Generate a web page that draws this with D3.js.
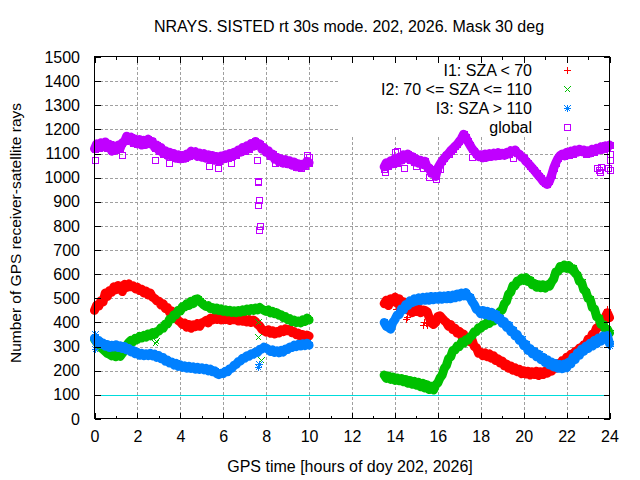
<!DOCTYPE html>
<html>
<head>
<meta charset="utf-8">
<script src="https://cdn.jsdelivr.net/npm/d3@7"></script>
<style>
  body { margin: 0; background: #fff; }
  svg { display: block; font-family: "Liberation Sans", Arial, sans-serif; }
</style>
</head>
<body>
<svg id="chart" width="640" height="480"></svg>
<script>
"use strict";

// values read every 0.1 h of the day; arc A runs 0-10 h, arc B 13.5-24 h
var step = 0.1;
var startA = 0;
var startB = 13.5;

var redA = [
  450, 472, 468, 490, 485, 522, 508, 532, 525, 548,
  536, 553, 540, 528, 558, 545, 560, 548, 552, 540,
  546, 532, 538, 522, 530, 514, 522, 505, 500, 490,
  488, 472, 478, 458, 462, 442, 448, 428, 420, 408,
  402, 392, 398, 380, 392, 376, 390, 382, 396, 384,
  398, 402, 408, 398, 418, 410, 422, 412, 420, 410,
  422, 412, 418, 408, 420, 412, 418, 406, 416, 405,
  414, 402, 412, 400, 410, 404, 392, 385, 372, 366,
  360, 370, 355, 366, 352, 362, 356, 370, 362, 374,
  366, 372, 358, 362, 350, 356, 342, 350, 338, 348,
  344];
var greenA = [
  330, 318, 305, 296, 288, 280, 272, 268, 262, 270,
  258, 266, 260, 272, 285, 305, 318, 326, 320, 334,
  330, 342, 336, 346, 340, 352, 344, 358, 350, 362,
  364, 378, 376, 394, 394, 414, 414, 432, 432, 450,
  448, 466, 464, 478, 470, 488, 478, 496, 498, 488,
  480, 472, 466, 470, 458, 462, 452, 460, 450, 456,
  446, 452, 444, 450, 442, 448, 440, 450, 442, 452,
  446, 456, 448, 458, 450, 460, 452, 462, 455, 450,
  446, 452, 440, 446, 436, 440, 430, 432, 420, 424,
  412, 416, 404, 410, 400, 406, 398, 410, 404, 418,
  410];
var blueA = [
  335, 318, 325, 310, 314, 302, 308, 296, 306, 298,
  308, 296, 304, 292, 300, 286, 292, 278, 284, 270,
  276, 264, 272, 262, 270, 262, 272, 262, 268, 256,
  262, 250, 254, 240, 244, 232, 236, 224, 230, 218,
  224, 214, 220, 210, 218, 210, 216, 206, 214, 206,
  212, 204, 210, 200, 206, 196, 200, 188, 184, 190,
  188, 198, 196, 208, 210, 222, 226, 238, 240, 252,
  252, 262, 260, 270, 268, 278, 276, 288, 290, 298,
  294, 288, 280, 286, 276, 282, 274, 284, 278, 290,
  288, 298, 296, 306, 300, 310, 302, 312, 304, 314,
  306];
var globalA = [
  1120, 1140, 1125, 1145, 1128, 1148, 1125, 1138, 1110, 1132,
  1115, 1135, 1122, 1145, 1150, 1172, 1155, 1168, 1145, 1160,
  1140, 1158, 1135, 1155, 1138, 1160, 1140, 1150, 1125, 1135,
  1112, 1125, 1100, 1112, 1092, 1105, 1088, 1100, 1080, 1095,
  1078, 1092, 1080, 1098, 1088, 1110, 1095, 1108, 1088, 1102,
  1085, 1100, 1080, 1095, 1078, 1092, 1072, 1088, 1070, 1090,
  1078, 1095, 1082, 1100, 1088, 1105, 1095, 1115, 1105, 1125,
  1112, 1132, 1120, 1142, 1130, 1150, 1135, 1140, 1118, 1125,
  1105, 1112, 1090, 1098, 1076, 1085, 1065, 1078, 1060, 1075,
  1058, 1070, 1052, 1065, 1045, 1058, 1042, 1056, 1050, 1068,
  1062];

var redB = [
  478, 492, 470, 498, 486, 505, 480, 498, 470, 486,
  462, 452, 458, 440, 452, 446, 458, 440, 452, 450,
  445, 420, 398, 392, 400, 425, 428, 418, 408, 400,
  384, 392, 370, 376, 356, 364, 344, 352, 332, 338,
  320, 326, 300, 296, 272, 276, 262, 274, 258, 270,
  252, 262, 242, 250, 232, 240, 220, 228, 210, 220,
  202, 212, 196, 206, 188, 200, 186, 198, 182, 196,
  184, 198, 180, 196, 184, 198, 190, 206, 198, 216,
  210, 230, 224, 242, 236, 256, 250, 268, 262, 280,
  276, 294, 290, 308, 306, 330, 328, 352, 356, 378,
  380, 404, 400, 422, 440, 420];
var greenB = [
  182, 168, 178, 164, 174, 160, 170, 158, 168, 154,
  164, 148, 160, 144, 156, 140, 152, 134, 148, 128,
  142, 122, 136, 120, 142, 150, 170, 182, 210, 222,
  250, 258, 284, 286, 302, 300, 318, 314, 328, 326,
  340, 346, 362, 362, 378, 376, 390, 388, 400, 396,
  408, 406, 424, 428, 446, 452, 478, 488, 518, 526,
  552, 552, 572, 570, 584, 574, 586, 570, 574, 556,
  562, 546, 556, 544, 556, 542, 556, 550, 568, 580,
  610, 612, 632, 626, 638, 624, 636, 620, 624, 604,
  596, 570, 566, 536, 528, 500, 496, 462, 456, 424,
  418, 392, 392, 372, 372, 356];
var blueB = [
  400, 384, 380, 372, 400, 412, 430, 432, 456, 452,
  474, 470, 490, 482, 498, 488, 502, 490, 504, 492,
  506, 492, 508, 494, 508, 496, 510, 496, 510, 498,
  512, 498, 514, 502, 518, 506, 522, 510, 524, 508,
  504, 486, 474, 454, 450, 436, 450, 432, 446, 428,
  442, 424, 434, 412, 418, 396, 404, 380, 388, 362,
  368, 344, 350, 326, 330, 304, 310, 284, 292, 270,
  280, 258, 268, 246, 256, 234, 246, 224, 236, 216,
  230, 210, 226, 208, 228, 212, 236, 228, 256, 246,
  274, 264, 290, 280, 302, 292, 314, 302, 326, 312,
  336, 322, 344, 330, 346, 312];
var globalB = [
  1045, 1062, 1050, 1070, 1058, 1080, 1062, 1085, 1072, 1095,
  1080, 1098, 1075, 1088, 1065, 1078, 1060, 1072, 1055, 1068,
  1045, 1040, 1018, 1030, 1005, 1040, 1055, 1070, 1080, 1092,
  1100, 1112, 1120, 1130, 1138, 1150, 1162, 1180, 1168, 1150,
  1135, 1120, 1110, 1098, 1088, 1095, 1082, 1098, 1085, 1100,
  1088, 1102, 1090, 1104, 1092, 1100, 1092, 1105, 1098, 1112,
  1108, 1115, 1102, 1098, 1085, 1082, 1068, 1060, 1050, 1040,
  1030, 1018, 1008, 998, 985, 978, 972, 985, 1010, 1040,
  1062, 1080, 1092, 1098, 1090, 1105, 1095, 1110, 1100, 1115,
  1105, 1118, 1108, 1115, 1100, 1112, 1102, 1118, 1108, 1122,
  1115, 1128, 1118, 1132, 1125, 1135];

// isolated points off the main tracks [hour, rays]
var redOut = [
  [14.05, 455], [14.2, 452], [14.5, 416], [14.55, 424], [15.3, 390], [15.35, 404],
  [15.45, 396], [15.5, 388], [15.6, 398], [23.9, 456]];
var greenOut = [[2.8, 314], [2.85, 322], [7.6, 340], [7.62, 404], [7.78, 246]];
var blueOut = [[0, 288], [0, 352], [7.6, 214], [7.65, 226], [24, 304]];
var globalOut = [
  [0.0, 1074], [1.27, 1094], [2.8, 1073], [3.47, 1062], [5.34, 1048], [5.77, 1041],
  [6.35, 1062], [7.59, 1075], [7.63, 983], [7.6, 988], [7.68, 908], [7.63, 886],
  [7.7, 800], [7.68, 782], [8.41, 1060], [9.89, 1094], [10, 1086],
  [13.5, 1036], [13.55, 1024], [14.0, 1105], [14.1, 1112], [14.4, 1040], [15.0, 1048],
  [15.3, 1040], [15.6, 1002], [15.9, 996], [16.1, 1034], [17.6, 1086], [19.5, 1082],
  [23.4, 1040], [23.5, 1030], [23.6, 1045], [23.55, 1022], [23.95, 1042], [24.0, 1030],
  [24.0, 1100], [24.0, 1075]];

var xTicks = [0, 2, 4, 6, 8, 10, 12, 14, 16, 18, 20, 22, 24];
var xMinor = [1, 3, 5, 7, 9, 11, 13, 15, 17, 19, 21, 23];
var yTicks = [0, 100, 200, 300, 400, 500, 600, 700, 800, 900, 1000, 1100, 1200, 1300, 1400, 1500];
var threshold = 100;

var labels = ["I1: SZA < 70", "I2: 70 <= SZA <= 110", "I3: SZA > 110", "global"];
var colors = ["#ff0000", "#00c000", "#0080ff", "#c000ff"];
var shapes = ["plus", "cross", "star", "square"];

var toPoints = function(vals, start) {
  return vals.map(function(v, i) { return [start + i * step, v]; });
};

var series = [
  {a: redA, b: redB, out: redOut},
  {a: greenA, b: greenB, out: greenOut},
  {a: blueA, b: blueB, out: blueOut},
  {a: globalA, b: globalB, out: globalOut}
].map(function(s, i) {
  var arcA = toPoints(s.a, startA), arcB = toPoints(s.b, startB);
  return {
    label: labels[i], color: colors[i], shape: shapes[i],
    arcs: [arcA, arcB],
    points: arcA.concat(arcB, s.out)
  };
});

var marker = function(shape, px, py) {
  var cx = Math.round(px), cy = Math.round(py);
  var plus = "M" + (cx - 3) + "," + (cy + 0.5) + "H" + (cx + 4) +
             "M" + (cx + 0.5) + "," + (cy - 3) + "V" + (cy + 4);
  var cross = "M" + (cx - 2.5) + "," + (cy - 2.5) + "L" + (cx + 3.5) + "," + (cy + 3.5) +
              "M" + (cx - 2.5) + "," + (cy + 3.5) + "L" + (cx + 3.5) + "," + (cy - 2.5);
  if (shape == "plus") return plus;
  if (shape == "cross") return cross;
  if (shape == "star") return plus + cross;
  return "M" + (cx - 2.5) + "," + (cy - 2.5) + "h6v6h-6z";
};

var svg = d3.select("#chart");
var margin = {left: 94.5, right: 609.5, top: 57, bottom: 419};

var x = d3.scaleLinear().domain([0, 24]).range([margin.left, margin.right]);
var y = d3.scaleLinear().domain([0, 1500]).range([margin.bottom, margin.top]);

svg.append("rect").attr("width", 640).attr("height", 480).attr("fill", "#fff");

// grid
var grid = svg.append("g")
  .attr("stroke", "#a0a0a0")
  .attr("stroke-dasharray", "3,2")
  .attr("shape-rendering", "crispEdges");
grid.selectAll("line.gx")
  .data(xTicks.slice(1, -1))
  .enter().append("line")
  .attr("x1", d => Math.round(x(d)) + 0.5).attr("x2", d => Math.round(x(d)) + 0.5)
  .attr("y1", margin.top).attr("y2", margin.bottom);
grid.selectAll("line.gy")
  .data(yTicks.slice(1, -1))
  .enter().append("line")
  .attr("x1", margin.left).attr("x2", margin.right)
  .attr("y1", d => Math.round(y(d)) + 0.5).attr("y2", d => Math.round(y(d)) + 0.5);

// opaque key box
svg.append("rect")
  .attr("x", 340).attr("y", margin.top)
  .attr("width", margin.right - 340).attr("height", 79)
  .attr("fill", "#fff");

// threshold line
svg.append("line")
  .attr("x1", margin.left).attr("x2", margin.right)
  .attr("y1", Math.round(y(threshold)) + 0.5).attr("y2", Math.round(y(threshold)) + 0.5)
  .attr("stroke", "#00dcdc")
  .attr("shape-rendering", "crispEdges");

// data: the 30 s samples overlap into a dense track, drawn as a wide stroke
// under the point symbols
var track = d3.line().x(d => x(d[0])).y(d => y(d[1]));
series.forEach(function(s) {
  var g = svg.append("g");
  g.selectAll("path.track")
    .data(s.arcs)
    .enter().append("path")
    .attr("class", "track")
    .attr("d", track)
    .attr("fill", "none")
    .attr("stroke", s.color)
    .attr("stroke-width", 9)
    .attr("stroke-linejoin", "round")
    .attr("stroke-linecap", "round");
  g.append("g")
    .attr("stroke", s.color)
    .attr("fill", "none")
    .attr("shape-rendering", "crispEdges")
    .selectAll("path")
    .data(s.points)
    .enter().append("path")
    .attr("d", d => marker(s.shape, x(d[0]), y(d[1])));
});

// key
var key = svg.append("g");
series.forEach(function(s, i) {
  var ky = 70 + i * 19;
  key.append("text")
    .attr("x", 532).attr("y", ky).attr("dy", "0.36em")
    .attr("text-anchor", "end")
    .style("font-size", "16px")
    .text(s.label);
  key.append("path")
    .attr("d", marker(s.shape, 567, ky))
    .attr("stroke", s.color).attr("fill", "none")
    .attr("shape-rendering", "crispEdges");
});

// axes
var axisStyle = function(g) {
  g.attr("shape-rendering", "crispEdges")
   .style("font-family", "'Liberation Sans', Arial, sans-serif")
   .style("font-size", "16px");
  g.select(".domain").remove();
  g.selectAll("text").attr("fill", "#000");
};
svg.append("g")
  .attr("transform", `translate(0,${margin.bottom})`)
  .call(d3.axisBottom(x).tickValues(xTicks).tickSize(-6).tickSizeOuter(0).tickPadding(12))
  .call(axisStyle);
svg.append("g")
  .attr("transform", `translate(0,${margin.bottom})`)
  .call(d3.axisBottom(x).tickValues(xMinor).tickSize(-3).tickFormat(""))
  .call(axisStyle);
svg.append("g")
  .attr("transform", `translate(0,${margin.top})`)
  .call(d3.axisTop(x).tickValues(xTicks).tickSize(-6).tickFormat(""))
  .call(axisStyle);
svg.append("g")
  .attr("transform", `translate(0,${margin.top})`)
  .call(d3.axisTop(x).tickValues(xMinor).tickSize(-3).tickFormat(""))
  .call(axisStyle);
svg.append("g")
  .attr("transform", `translate(${margin.left},0)`)
  .call(d3.axisLeft(y).tickValues(yTicks).tickFormat(d3.format("d")).tickSize(-6).tickPadding(14.5))
  .call(axisStyle);
svg.append("g")
  .attr("transform", `translate(${margin.right},0)`)
  .call(d3.axisRight(y).tickValues(yTicks).tickSize(-6).tickFormat(""))
  .call(axisStyle);

// border
svg.append("rect")
  .attr("x", margin.left).attr("y", margin.top - 0.5)
  .attr("width", margin.right - margin.left).attr("height", margin.bottom - margin.top)
  .attr("fill", "none").attr("stroke", "#000")
  .attr("shape-rendering", "crispEdges");

// titles
svg.append("text")
  .attr("x", 349).attr("y", 32)
  .attr("text-anchor", "middle")
  .style("font-size", "16px")
  .text("NRAYS. SISTED rt 30s mode. 202, 2026. Mask 30 deg");
svg.append("text")
  .attr("x", 350).attr("y", 472)
  .attr("text-anchor", "middle")
  .style("font-size", "16px")
  .text("GPS time [hours of doy 202, 2026]");
svg.append("text")
  .attr("transform", "translate(21,233) rotate(-90)")
  .attr("text-anchor", "middle")
  .style("font-size", "15.5px")
  .text("Number of GPS receiver-satellite rays");
</script>
</body>
</html>
